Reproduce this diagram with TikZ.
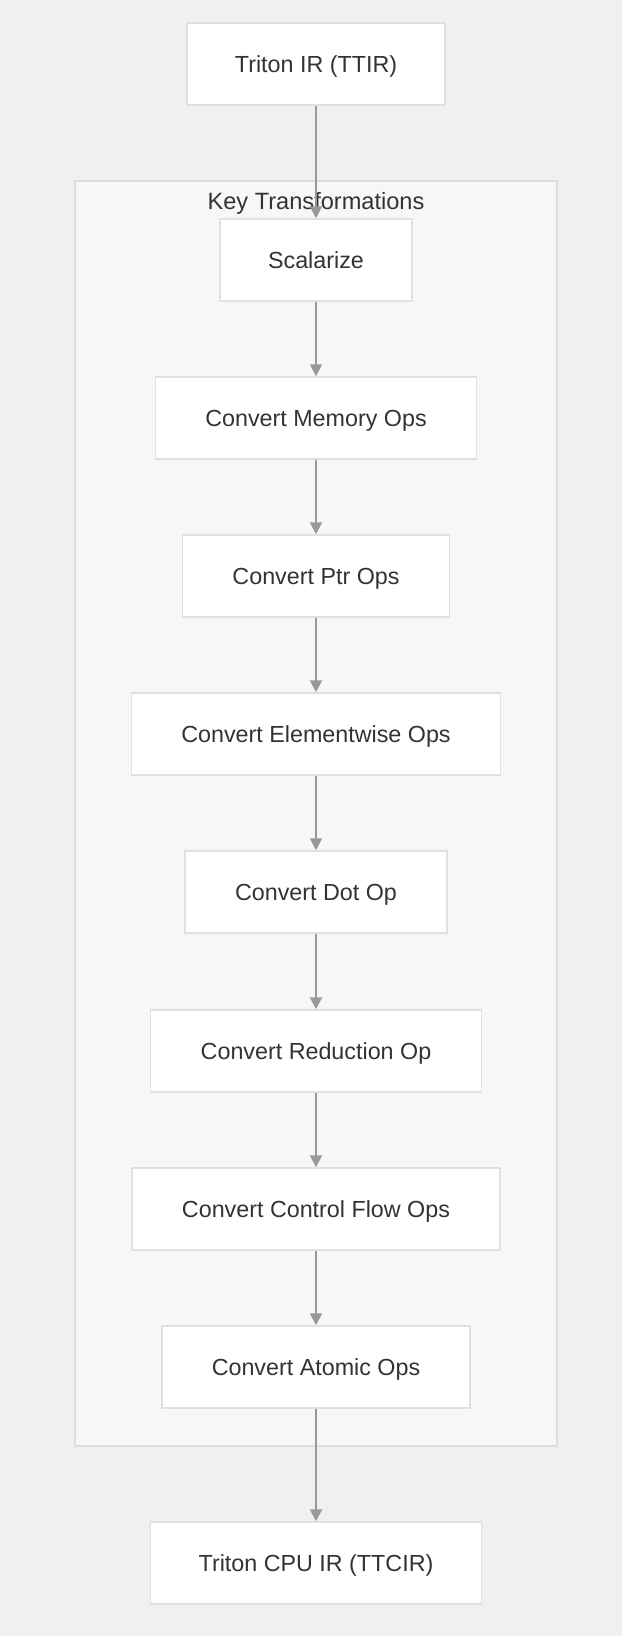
\documentclass[tikz,border=0pt]{standalone}
\usepackage{fontspec}
\setmainfont{Liberation Sans}
\usetikzlibrary{arrows.meta}
\definecolor{bgcol}{RGB}{241,240,238}
\definecolor{keyfill}{RGB}{247,247,247}
\definecolor{keyline}{RGB}{222,222,222}
\definecolor{passline}{RGB}{224,224,224}
\definecolor{flowcol}{RGB}{153,153,153}
\definecolor{passtext}{RGB}{51,51,51}
\begin{document}
\begin{tikzpicture}[x=1bp, y=-1bp,
	passnode/.style={draw=passline, line width=1.5bp, fill=white, text=passtext, minimum height=82bp, inner xsep=50bp, text height=16.7bp, text depth=0pt, font=\fontsize{23.3bp}{28bp}\selectfont},
	flow/.style={draw=flowcol, line width=2bp, -{Triangle[length=12bp, width=12bp]}}]
		\fill[bgcol] (0,0) rectangle (622,1636);

		\node[draw=keyline, fill=keyfill, line width=1.5bp, minimum width=482bp, minimum height=1265bp] at (316,813.5) (keys) {};
		\node[text=passtext, anchor=base, font=\fontsize{23.6bp}{28bp}\selectfont] at (316,209) (keytitle) {Key Transformations};

		\node[passnode, inner xsep=48bp] at (316,64) (ttir) {Triton IR (TTIR)};
		\node[passnode, inner xsep=48bp] at (316,260) (scal) {Scalarize};
		\node[passnode] at (316,418) (mem) {Convert Memory Ops};
		\node[passnode] at (316,576) (ptr) {Convert Ptr Ops};
		\node[passnode] at (316,734) (elem) {Convert Elementwise Ops};
		\node[passnode] at (316,892) (dot) {Convert Dot Op};
		\node[passnode] at (316,1051) (red) {Convert Reduction Op};
		\node[passnode] at (316,1209) (cf) {Convert Control Flow Ops};
		\node[passnode] at (316,1367) (atom) {Convert Atomic Ops};
		\node[passnode, inner xsep=48bp] at (316,1563) (ttcir) {Triton CPU IR (TTCIR)};

		\path
		(ttir) edge[flow] (scal)
		(scal) edge[flow] (mem)
		(mem) edge[flow] (ptr)
		(ptr) edge[flow] (elem)
		(elem) edge[flow] (dot)
		(dot) edge[flow] (red)
		(red) edge[flow] (cf)
		(cf) edge[flow] (atom)
		(atom) edge[flow] (ttcir);
	\end{tikzpicture}
\end{document}
